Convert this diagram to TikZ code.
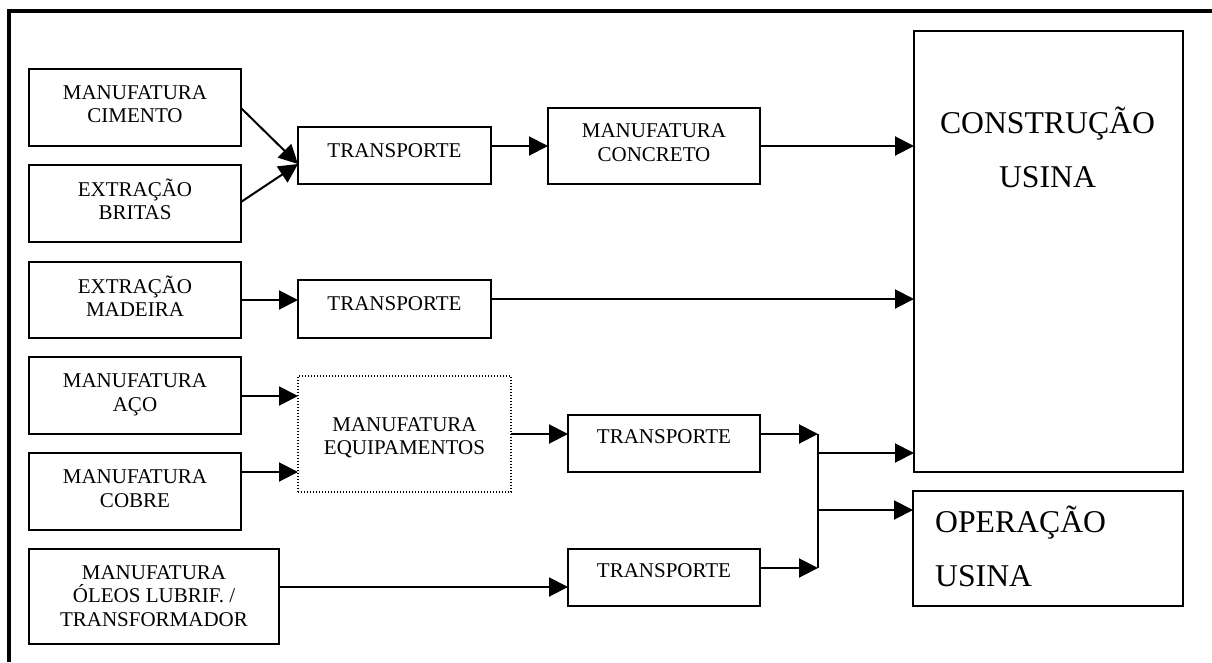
\documentclass[tikz,border=0pt]{standalone}
\usepackage{fontspec}
\setmainfont{Liberation Serif}
\usetikzlibrary{arrows.meta}
\newcommand{\smallfnt}{\fontsize{21}{23.7}\selectfont}
\newcommand{\bigfnt}{\fontsize{31.7}{54}\selectfont}
\tikzset{
  box/.style={draw, line width=2pt, inner sep=0pt, outer sep=0pt},
  dotbox/.style={draw, line width=1.4pt, dash pattern=on 1.4pt off 1.6pt, inner sep=0pt, outer sep=0pt},
  txta/.style={inner sep=0pt, align=center, font=\smallfnt, text height=14pt, text depth=0pt},
  txtb/.style={inner sep=0pt, align=center, font=\smallfnt, text height=37.7pt, text depth=0pt},
  txtc/.style={inner sep=0pt, align=center, font=\smallfnt, text height=62pt, text depth=0pt},
  bigtxt/.style={inner sep=0pt, font=\bigfnt, text height=75pt, text depth=0pt},
  conn/.style={line width=2pt, -{Triangle[length=19pt,width=19pt]}},
  plain/.style={line width=2pt},
  frame/.style={line width=3.4pt}
}
\begin{document}
\begin{tikzpicture}[x=1pt,y=-1pt]
\useasboundingbox (0,0) rectangle (1212,662);
% frame
\coordinate (fb) at (9,662);
\coordinate (fc) at (9,11);
\coordinate (fr) at (1212,11);
\draw[frame] (fb) -- (fc) -- (fr);

% boxes
\node[box, minimum width=212pt, minimum height=77pt] (cim) at (135,107.5) {};
\node[box, minimum width=212pt, minimum height=77pt] (bri) at (135,203.5) {};
\node[box, minimum width=212pt, minimum height=76pt] (mad) at (135,300) {};
\node[box, minimum width=212pt, minimum height=77pt] (aco) at (135,395.5) {};
\node[box, minimum width=212pt, minimum height=77pt] (cob) at (135,491.5) {};
\node[box, minimum width=250pt, minimum height=95pt] (ole) at (154,596.5) {};
\node[box, minimum width=193pt, minimum height=57pt] (t1) at (394.5,155.5) {};
\node[box, minimum width=193pt, minimum height=58pt] (t2) at (394.5,309) {};
\node[box, minimum width=212pt, minimum height=76pt] (conc) at (654,146) {};
\node[dotbox, minimum width=213pt, minimum height=116pt] (equ) at (404.5,434) {};
\node[box, minimum width=192pt, minimum height=57pt] (t3) at (664,443.5) {};
\node[box, minimum width=192pt, minimum height=57pt] (t4) at (664,577.5) {};
\node[box, minimum width=269pt, minimum height=441pt] (cons) at (1048.5,251.5) {};
\node[box, minimum width=270pt, minimum height=115pt] (ope) at (1048,548.5) {};

% texts
\node[txtb] (cimt) at (135,104) {MANUFATURA\\CIMENTO};
\node[txtb] (brit) at (135,201) {EXTRAÇÃO\\BRITAS};
\node[txtb] (madt) at (135,298) {EXTRAÇÃO\\MADEIRA};
\node[txtb] (acot) at (135,392.5) {MANUFATURA\\AÇO};
\node[txtb] (cobt) at (135,488.5) {MANUFATURA\\COBRE};
\node[txtc] (olet) at (154,595.5) {MANUFATURA\\ÓLEOS LUBRIF. /\\TRANSFORMADOR};
\node[txta] (t1t) at (394.5,150) {TRANSPORTE};
\node[txta] (t2t) at (394.5,303) {TRANSPORTE};
\node[txtb] (conct) at (654,142.5) {MANUFATURA\\CONCRETO};
\node[txtb] (equt) at (404.5,436) {MANUFATURA\\EQUIPAMENTOS};
\node[txta] (t3t) at (664,436.5) {TRANSPORTE};
\node[txta] (t4t) at (664,570.5) {TRANSPORTE};
\node[bigtxt, align=center] (const) at (1047.5,149.5) {CONSTRUÇÃO\\USINA};
\node[bigtxt, align=left, anchor=west] (opet) at (935,548.5) {OPERAÇÃO\\USINA};

% connectors
\coordinate (t1in) at (298,164);
\draw[conn] (cim.east |- 0,108) -- (t1in);
\draw[conn] (bri.east |- 0,202) -- (t1in);
\draw[conn] (t1.east |- 0,146) -- (conc.west |- 0,146);
\draw[conn] (conc.east |- 0,146) -- (cons.west |- 0,146);
\draw[conn] (mad.east |- 0,300) -- (t2.west |- 0,300);
\draw[conn] (t2.east |- 0,299) -- (cons.west |- 0,299);
\draw[conn] (aco.east |- 0,396) -- (equ.west |- 0,396);
\draw[conn] (cob.east |- 0,472) -- (equ.west |- 0,472);
\draw[conn] (equ.east |- 0,434) -- (t3.west |- 0,434);
\draw[conn] (ole.east |- 0,587) -- (t4.west |- 0,587);
\coordinate (ja) at (818,434);
\coordinate (jb) at (818,568);
\draw[conn] (t3.east |- ja) -- (ja);
\draw[conn] (t4.east |- jb) -- (jb);
\draw[plain] (ja) -- (jb);
\coordinate (jc) at (818,453);
\coordinate (jd) at (818,510);
\draw[conn] (jc) -- (cons.west |- jc);
\draw[conn] (jd) -- (ope.west |- jd);
\end{tikzpicture}
\end{document}
